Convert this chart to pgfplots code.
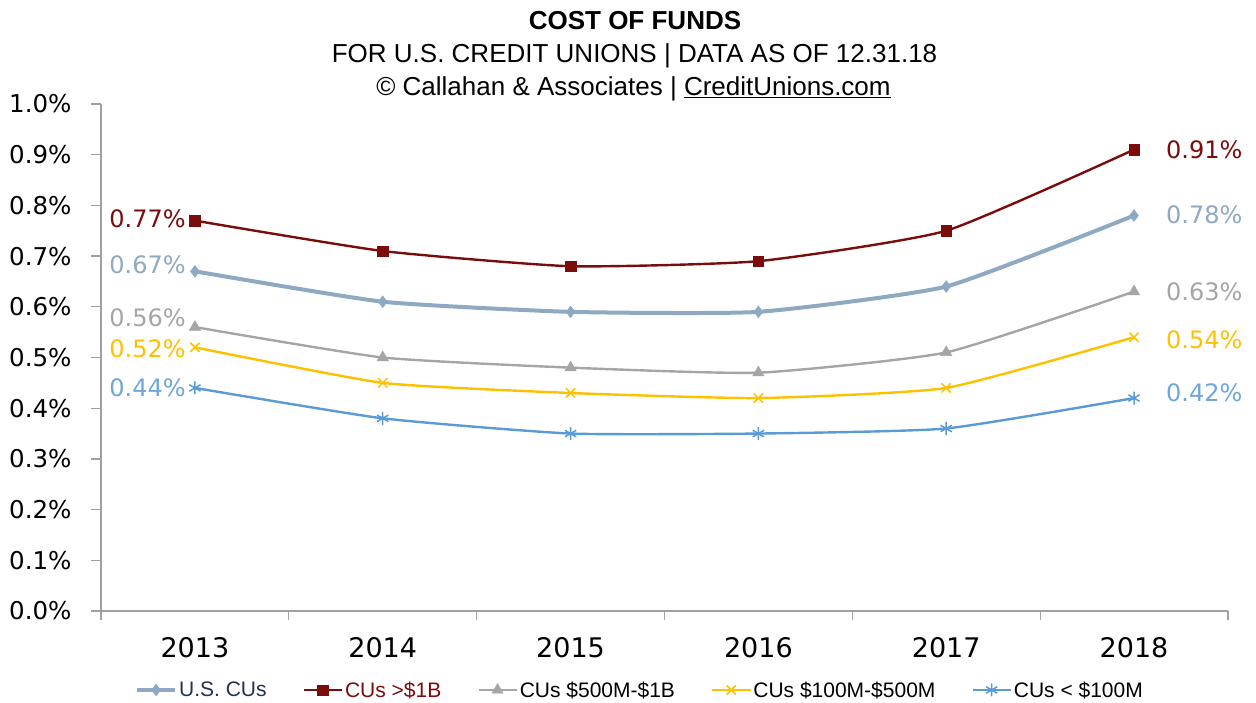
\documentclass[border=0pt]{standalone}
\usepackage{fontspec}
\setmainfont{DejaVu Sans}
\newfontfamily\lib{Liberation Sans}
\usepackage{pgfplots}
\pgfplotsset{compat=1.18}
\definecolor{cusc}{HTML}{8EA9C1}
\definecolor{cbig}{HTML}{7B0C0C}
\definecolor{cgray}{HTML}{A5A5A5}
\definecolor{cgold}{HTML}{FFC000}
\definecolor{cblue}{HTML}{5B9BD5}
\definecolor{cblab}{HTML}{6FA6DA}
\definecolor{cnavy}{HTML}{1F3350}
\definecolor{caxis}{HTML}{A0A0A0}
\begin{document}
\begin{tikzpicture}
\useasboundingbox (0,0) rectangle (1256pt,702pt);
\begin{axis}[
  at={(101pt,91pt)}, anchor=south west,
  scale only axis, width=1127pt, height=507pt,
  xmin=-0.5, xmax=5.5, ymin=0, ymax=1,
  clip=false,
  axis x line*=bottom, axis y line*=left,
  axis line style={-, draw=caxis, line width=1.2pt},
  tick align=outside,
  tick style={draw=caxis, line width=1.2pt},
  major tick length=10pt, minor tick length=9pt,
  xtick={0,1,2,3,4,5},
  xticklabels={2013,2014,2015,2016,2017,2018},
  major x tick style={draw=none},
  minor xtick={-0.5,0.5,1.5,2.5,3.5,4.5,5.5},
  ytick={0,0.1,0.2,0.3,0.4,0.5,0.6,0.7,0.8,0.9,1.0},
  /pgf/number format/assume math mode=true,
  yticklabel={\pgfmathprintnumber[fixed,fixed zerofill,precision=1]{\tick}\%},
  yticklabel style={font=\fontsize{24.5}{28}\selectfont, xshift=-16pt},
  xticklabel style={font=\fontsize{27}{30}\selectfont, yshift=-13pt},
  legend columns=5,
  legend style={draw=none, fill=none, font=\lib\fontsize{21}{24}\selectfont,
    at={(0.4783,-0.1558)}, anchor=center,
    /tikz/every even column/.append style={column sep=34pt}},
  legend cell align=left,
  legend image code/.code={\draw[mark repeat=2,mark phase=2] plot coordinates {(0pt,0pt) (19pt,0pt) (38pt,0pt)};},
]
\addplot[cusc, line width=4pt, smooth, tension=0.3, mark=diamond*, mark size=5.5pt, mark options={solid, fill=cusc, line width=1pt}]
  coordinates {(0,0.67) (1,0.61) (2,0.59) (3,0.59) (4,0.64) (5,0.78)};
\addlegendentry{\textcolor{cnavy}{U.S. CUs}}
\addplot[cbig, line width=2.4pt, smooth, tension=0.3, mark=square*, mark size=5.2pt, mark options={solid, fill=cbig, line width=0.5pt}]
  coordinates {(0,0.77) (1,0.71) (2,0.68) (3,0.69) (4,0.75) (5,0.91)};
\addlegendentry{\textcolor{cbig}{CUs >\$1B}}
\addplot[cgray, line width=2.4pt, smooth, tension=0.3, mark=triangle*, mark size=6.5pt, mark options={solid, fill=cgray, line width=0.5pt}]
  coordinates {(0,0.56) (1,0.50) (2,0.48) (3,0.47) (4,0.51) (5,0.63)};
\addlegendentry{CUs \$500M-\$1B}
\addplot[cgold, line width=2.4pt, smooth, tension=0.3, mark=x, mark size=6.5pt, mark options={solid, line width=1.5pt}]
  coordinates {(0,0.52) (1,0.45) (2,0.43) (3,0.42) (4,0.44) (5,0.54)};
\addlegendentry{CUs \$100M-\$500M}
\addplot[cblue, line width=2.4pt, smooth, tension=0.3, mark=asterisk, mark size=6.5pt, mark options={solid, line width=1.5pt}]
  coordinates {(0,0.44) (1,0.38) (2,0.35) (3,0.35) (4,0.36) (5,0.42)};
\addlegendentry{CUs < \$100M}
% data labels
\begin{scope}[every node/.style={inner sep=0pt, font=\fontsize{24}{28}\selectfont}]
\node[anchor=east, cbig] at (axis cs:0,0.77) [xshift=-9pt, yshift=2pt] {0.77\%};
\node[anchor=east, cusc] at (axis cs:0,0.67) [xshift=-9pt, yshift=7pt] {0.67\%};
\node[anchor=east, cgray] at (axis cs:0,0.56) [xshift=-9pt, yshift=9pt] {0.56\%};
\node[anchor=east, cgold] at (axis cs:0,0.52) [xshift=-9pt, yshift=-1pt] {0.52\%};
\node[anchor=east, cblab] at (axis cs:0,0.44) [xshift=-9pt, yshift=0pt] {0.44\%};
\node[anchor=west, cbig] at (axis cs:5,0.91) [xshift=32pt] {0.91\%};
\node[anchor=west, cusc] at (axis cs:5,0.78) [xshift=32pt, yshift=1pt] {0.78\%};
\node[anchor=west, cgray] at (axis cs:5,0.63) [xshift=32pt] {0.63\%};
\node[anchor=west, cgold] at (axis cs:5,0.54) [xshift=32pt, yshift=-3pt] {0.54\%};
\node[anchor=west, cblab] at (axis cs:5,0.42) [xshift=32pt, yshift=5pt] {0.42\%};
\end{scope}
\end{axis}
\node[font=\lib\bfseries\fontsize{26}{30}\selectfont] at (635pt,681pt) {COST OF FUNDS};
\node[font=\lib\fontsize{26}{30}\selectfont] at (634.5pt,646pt) {FOR U.S. CREDIT UNIONS | DATA AS OF 12.31.18};
\node[font=\lib\fontsize{26}{30}\selectfont] at (633.5pt,613pt) {© Callahan \& Associates | \underline{CreditUnions.com}};
\end{tikzpicture}
\end{document}
